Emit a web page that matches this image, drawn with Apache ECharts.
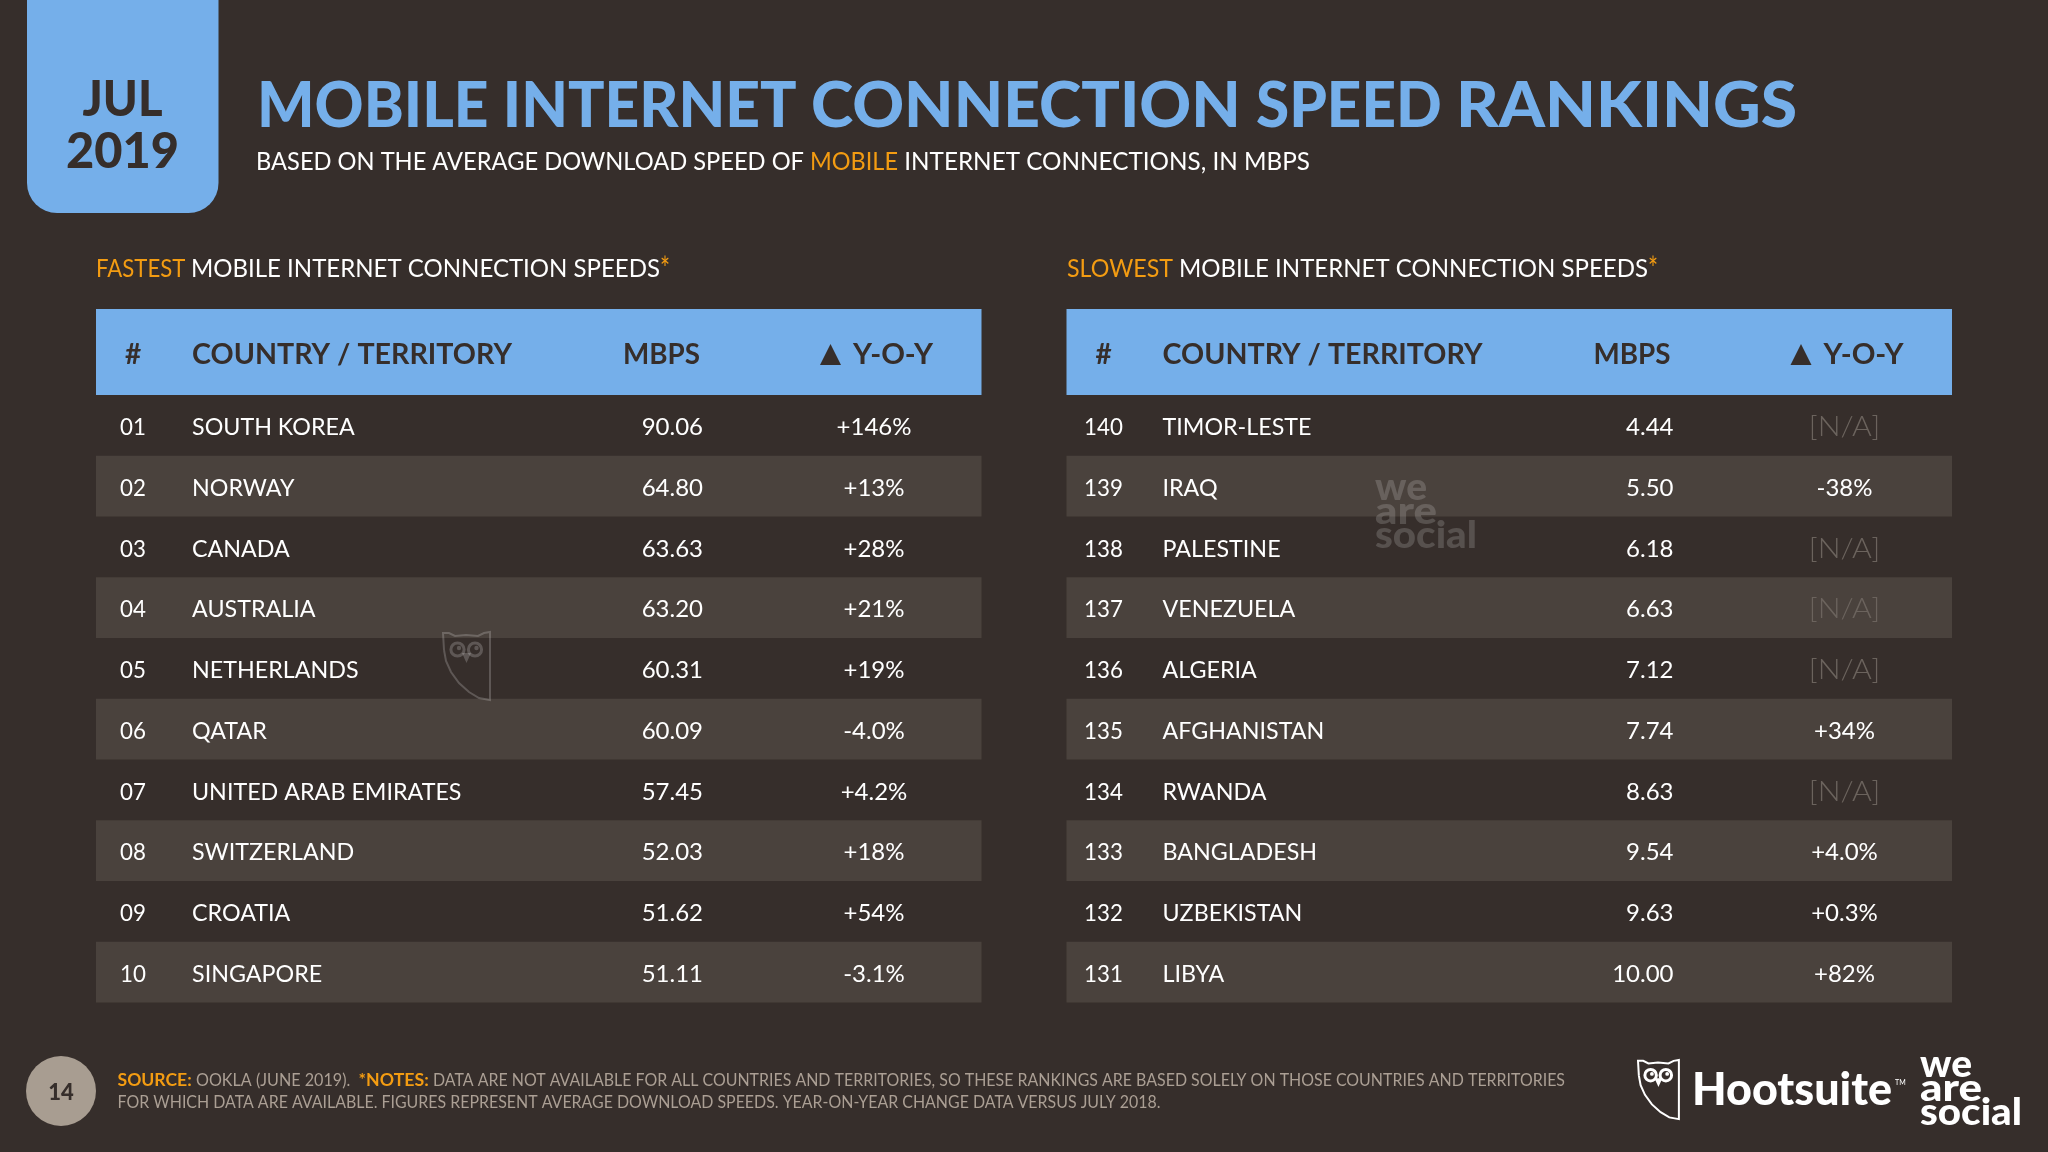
<!DOCTYPE html>
<html><head><meta charset="utf-8">
<style>html,body{margin:0;padding:0;background:#362e2b}#c{width:2048px;height:1152px}</style>
<script src="https://cdn.jsdelivr.net/npm/echarts@6/dist/echarts.min.js"></script>
</head><body><div id="c"></div>
<script>
const fastRanks = ['01','02','03','04','05','06','07','08','09','10'];
const fastCountries = ['SOUTH KOREA','NORWAY','CANADA','AUSTRALIA','NETHERLANDS','QATAR','UNITED ARAB EMIRATES','SWITZERLAND','CROATIA','SINGAPORE'];
const fastMbps = [90.06,64.80,63.63,63.20,60.31,60.09,57.45,52.03,51.62,51.11];
const fastYoy = ['+146%','+13%','+28%','+21%','+19%','-4.0%','+4.2%','+18%','+54%','-3.1%'];
const slowRanks = ['140','139','138','137','136','135','134','133','132','131'];
const slowCountries = ['TIMOR-LESTE','IRAQ','PALESTINE','VENEZUELA','ALGERIA','AFGHANISTAN','RWANDA','BANGLADESH','UZBEKISTAN','LIBYA'];
const slowMbps = [4.44,5.50,6.18,6.63,7.12,7.74,8.63,9.54,9.63,10.00];
const slowYoy = ['[N/A]','-38%','[N/A]','[N/A]','[N/A]','+34%','[N/A]','+4.0%','+0.3%','+82%'];

const BG='#362e2b', BAND='#4a423d', BLUE='#75afea', ORANGE='#f39c12', WHITE='#ffffff', GREY='#ab9f94', NA='#6b635d';
const FONT='Lato';
const ctx=document.createElement('canvas').getContext('2d');
function tw(t,size,weight){ctx.font=`${weight} ${size}px ${FONT}`;return ctx.measureText(t).width;}
// Text runs laid out left to right; each run is squeezed to its own width W
function runs(x,y,list,size,z){
  let cx=x; const out=[];
  list.forEach(r=>{
    const w=r.w||400, s=r.s||size, sx=r.W/tw(r.t,s,w);
    out.push({type:'text',x:cx,y:y+(r.dy||0),scaleX:sx,z:z||5,style:{text:r.t,x:0,y:0,fill:r.c,fontFamily:FONT,fontSize:s,fontWeight:w,align:'left',verticalAlign:'middle'}});
    cx+=r.W;
  });
  return out;
}
function centered(cx,y,t,size,w,c,target){
  const sx=target?target/tw(t,size,w):1;
  return {type:'text',x:cx,y:y,scaleX:sx,z:5,style:{text:t,x:0,y:0,fill:c,fontFamily:FONT,fontSize:size,fontWeight:w,align:'center',verticalAlign:'middle'}};
}
const OWL_OUTLINE=[[1,18],[0,1],[6,1],[12,4],[23,3],[35,4],[41,1],[47,0],[47,68],[36,66],[26,60],[16,51],[8,40],[3,29],[1,18]];
function owl(x,y,s,c,lw){
  const g=[{type:'polyline',z:4,shape:{points:OWL_OUTLINE.map(p=>[x+p[0]*s,y+p[1]*s])},style:{fill:'none',stroke:c,lineWidth:lw}}];
  [[14.5,17.5],[32,17.5]].forEach(e=>{
    g.push({type:'circle',z:4,shape:{cx:x+e[0]*s,cy:y+e[1]*s,r:6.6*s},style:{fill:'none',stroke:c,lineWidth:lw*1.5}});
    g.push({type:'circle',z:4,shape:{cx:x+(e[0]+1.5)*s,cy:y+(e[1]-1.5)*s,r:2.2*s},style:{fill:c}});
  });
  g.push({type:'polygon',z:4,shape:{points:[[x+19*s,y+21*s],[x+28*s,y+21*s],[x+23.5*s,y+31*s]]},style:{fill:c}});
  return g;
}
function logoText(x,y,c){
  const mk=(t,yy,target)=>{
    const sx=target/tw(t,38,900);
    return {type:'text',x,y:yy,scaleX:sx,z:4,style:{text:t,x:0,y:0,fill:c,fontFamily:FONT,fontSize:38,fontWeight:900,align:'left',verticalAlign:'middle'}};
  };
  return [mk('we',y,52),mk('are',y+24,62),mk('social',y+48,102)];
}

const TBL_W=885.5, TBL_TOP=395, TBL_H=607.5, LX=[96,1066.5];
const COL={rank:37,country:96,mbps:607,yoy:778};
const SIZE=24, DY=2;
const SX={rank:0.93,country:0.97,mbps:1.0,yoy:1};

function cellSeries(gridIdx,key,align,texts,colorFn){
  return {type:'custom',xAxisIndex:gridIdx,yAxisIndex:gridIdx,coordinateSystem:'cartesian2d',silent:true,clip:false,
    data:texts.map((t,i)=>[COL[key],i]),
    encode:{x:0,y:1},
    renderItem(params,api){
      const p=api.coord([api.value(0),api.value(1)]);
      const t=texts[params.dataIndex];
      const isNA=t==='[N/A]';
      return {type:'text',x:p[0],y:p[1]+DY,scaleX:isNA?1.12:SX[key],style:{text:t,x:0,y:0,fill:colorFn?colorFn(t):WHITE,fontFamily:FONT,fontSize:isNA?27:SIZE,fontWeight:isNA?300:400,align,verticalAlign:'middle'}};
    }};
}
function tableSeries(g,r,c,m,y){
  return [
    cellSeries(g,'rank','center',r),
    cellSeries(g,'country','left',c),
    cellSeries(g,'mbps','right',m.map(v=>v.toFixed(2))),
    cellSeries(g,'yoy','center',y,t=>t==='[N/A]'?NA:WHITE)
  ];
}
function axis(g,cats){
  return {gridIndex:g,type:'category',inverse:true,data:cats,axisLine:{show:false},axisTick:{show:false},axisLabel:{show:false},
    splitLine:{show:false},splitArea:{show:true,areaStyle:{color:['rgba(0,0,0,0)',BAND]}}};
}
function header(x0){
  const y=355;
  return [
    {type:'rect',z:1,shape:{x:x0,y:309,width:TBL_W,height:86},style:{fill:BLUE}},
    centered(x0+37,y,'#',28,700,BG),
    ...runs(x0+96,y,[{t:'COUNTRY / TERRITORY',c:BG,w:700,W:320}],28),
    ...runs(x0+527,y,[{t:'MBPS',c:BG,w:700,W:77}],28),
    {type:'polygon',z:5,shape:{points:[[x0+724,y+10],[x0+745,y+10],[x0+734.5,y-11]]},style:{fill:BG}},
    ...runs(x0+757,y,[{t:'Y-O-Y',c:BG,w:700,W:80}],28)
  ];
}
const graphics=[
  {type:'rect',z:1,shape:{x:27,y:-40,width:191.5,height:253,r:30},style:{fill:BLUE}},
  centered(122.5,100,'JUL',50,900,BG,80),
  centered(122.5,152,'2019',50,900,BG,113),
  ...runs(257,107,[{t:'MOBILE INTERNET ',c:BLUE,w:900,W:554},{t:'CONNECTION ',c:BLUE,w:900,W:445},{t:'SPEED ',c:BLUE,w:900,W:200},{t:'RANKINGS',c:BLUE,w:900,W:341}],63),
  ...runs(256,162,[{t:'BASED ON THE AVERAGE DOWNLOAD SPEED OF ',c:WHITE,W:554},{t:'MOBILE',c:ORANGE,W:88},{t:' INTERNET CONNECTIONS, IN MBPS',c:WHITE,W:412}],25),
  ...runs(96,268.5,[{t:'FASTEST ',c:ORANGE,W:95},{t:'MOBILE INTERNET CONNECTION SPEEDS',c:WHITE,W:469},{t:'*',c:ORANGE,W:10,s:32,dy:1}],25),
  ...runs(1067,268.5,[{t:'SLOWEST ',c:ORANGE,W:112},{t:'MOBILE INTERNET CONNECTION SPEEDS',c:WHITE,W:469},{t:'*',c:ORANGE,W:10,s:32,dy:1}],25),
  ...header(LX[0]),...header(LX[1]),
  {type:'circle',z:2,shape:{cx:61,cy:1091,r:35},style:{fill:'#a89d91'}},
  centered(61,1093,'14',22,900,BG),
  ...runs(117.5,1081,[{t:'SOURCE: ',c:ORANGE,w:700,W:78.5},{t:'OOKLA (JUNE 2019).  ',c:GREY,W:162.6},{t:'*NOTES: ',c:ORANGE,w:700,W:74.4},{t:'DATA ARE NOT AVAILABLE FOR ALL COUNTRIES AND TERRITORIES, SO THESE RANKINGS ARE BASED SOLELY ON THOSE COUNTRIES AND TERRITORIES',c:GREY,W:1132}],16.5),
  ...runs(117.5,1103,[{t:'FOR WHICH DATA ARE AVAILABLE. FIGURES REPRESENT AVERAGE DOWNLOAD SPEEDS. YEAR-ON-YEAR CHANGE DATA VERSUS JULY 2018.',c:GREY,W:1043}],16.5),
  ...owl(1638,1060,0.87,WHITE,2),
  ...runs(1692,1090,[{t:'Hootsuite',c:WHITE,w:900,W:200}],46),
  {type:'text',x:1895,y:1083,z:5,style:{text:'TM',x:0,y:0,fill:WHITE,fontFamily:FONT,fontSize:7,align:'left',verticalAlign:'middle'}},
  ...logoText(1920,1065,WHITE),
  ...owl(443,632,1,'rgba(255,255,255,0.2)',2),
  ...logoText(1375,488,'rgba(255,255,255,0.17)')
];

const chart=echarts.init(document.getElementById('c'),null,{renderer:'canvas',width:2048,height:1152});
chart.setOption({
  animation:false,
  backgroundColor:BG,
  grid:LX.map(x=>({left:x,top:TBL_TOP,width:TBL_W,height:TBL_H})),
  xAxis:[0,1].map(g=>({gridIndex:g,type:'value',min:0,max:TBL_W,show:false})),
  yAxis:[axis(0,fastCountries),axis(1,slowCountries)],
  series:[...tableSeries(0,fastRanks,fastCountries,fastMbps,fastYoy),...tableSeries(1,slowRanks,slowCountries,slowMbps,slowYoy)],
  graphic:{elements:graphics}
});
</script></body></html>
